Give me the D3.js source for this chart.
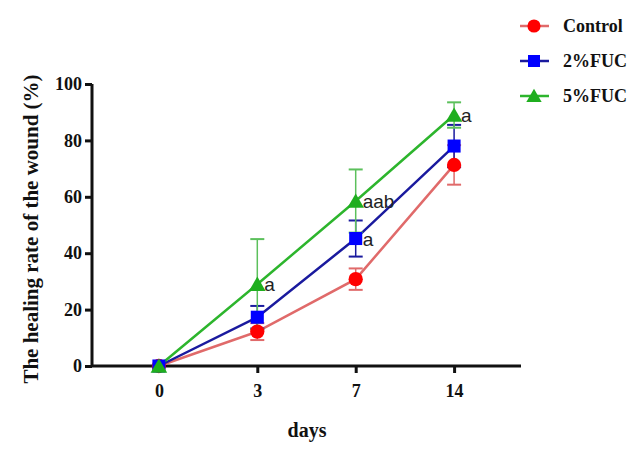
<!DOCTYPE html>
<html>
<head>
<meta charset="utf-8">
<script src="https://cdn.jsdelivr.net/npm/d3@7"></script>
<style>
  body { margin: 0; background: #fff; }
  svg { display: block; }
</style>
</head>
<body>
<script>
// data
const days = ['0', '3', '7', '14'];
const yTicks = [0, 20, 40, 60, 80, 100];
const seriesNames = ['Control', '2%FUC', '5%FUC'];
const controlMean = [0, 12.2, 30.8, 71.3];
const controlErr  = [0, 3, 3.8, 7];
const fuc2Mean = [0, 17.3, 45.2, 78];
const fuc2Err  = [0, 4, 6.4, 7.5];
const fuc5Mean = [0, 29, 58.5, 89];
const fuc5Err  = [0, 16, 11.2, 4.5];
// significance letters: [series index, day index, text]
const letters = [[2, 1, 'a'], [2, 2, 'aab'], [1, 2, 'a'], [2, 3, 'a']];

const W = 643, H = 458;
const svg = d3.select('body').append('svg').attr('width', W).attr('height', H);

const x = d3.scalePoint().domain(days).range([92, 521]).padding(0.68);
const y = d3.scaleLinear().domain([0, 100]).range([366, 84]);

const series = [
  {name: seriesNames[0], mean: controlMean, err: controlErr, line: '#e06a6a', mark: '#ff0000', bar: '#e06a6a', shape: d3.symbolCircle, size: 160},
  {name: seriesNames[1], mean: fuc2Mean, err: fuc2Err, line: '#1a1a9e', mark: '#0000ff', bar: '#1a1a9e', shape: d3.symbolSquare, size: 170},
  {name: seriesNames[2], mean: fuc5Mean, err: fuc5Err, line: '#2db52d', mark: '#1fae1f', bar: '#5cc05c', shape: d3.symbolTriangle, size: 120}
];

// axes
const serif = '"Liberation Serif", "Times New Roman", serif';
const yAxis = svg.append('g').attr('transform', 'translate(92,0)')
  .call(d3.axisLeft(y).tickValues(yTicks).tickSize(7).tickPadding(3));
const xAxis = svg.append('g').attr('transform', 'translate(0,366)')
  .call(d3.axisBottom(x).tickSize(7).tickPadding(11));
[yAxis, xAxis].forEach(g => {
  g.select('.domain').attr('stroke', '#111').attr('stroke-width', 3);
  g.selectAll('.tick line').attr('stroke', '#111').attr('stroke-width', 3);
  g.selectAll('.tick text').attr('fill', '#111')
    .style('font-family', serif).style('font-weight', 'bold').style('font-size', '18px');
});
yAxis.select('.domain').attr('d', 'M0,366V84');
xAxis.select('.domain').attr('d', 'M92,0H521');

svg.append('text').attr('x', 307).attr('y', 437).attr('text-anchor', 'middle')
  .style('font-family', serif).style('font-weight', 'bold').style('font-size', '20px')
  .attr('fill', '#111').text('days');
svg.append('text').attr('transform', 'translate(38,229) rotate(-90)').attr('text-anchor', 'middle')
  .style('font-family', serif).style('font-weight', 'bold').style('font-size', '21px')
  .attr('fill', '#111').text('The healing rate of the wound (%)');

// lines, error bars, markers
const line = d3.line().x((d, i) => x(days[i])).y(d => y(d));
series.forEach(s => {
  svg.append('path').datum(s.mean).attr('d', line)
    .attr('fill', 'none').attr('stroke', s.line).attr('stroke-width', 2.5);
});
series.forEach(s => {
  const g = svg.append('g');
  s.mean.forEach((m, i) => {
    if (!s.err[i]) return;
    const cx = x(days[i]);
    g.append('line').attr('x1', cx).attr('x2', cx).attr('y1', y(m - s.err[i])).attr('y2', y(m + s.err[i]))
      .attr('stroke', s.bar).attr('stroke-width', 1.5);
    [m - s.err[i], m + s.err[i]].forEach(v => {
      g.append('line').attr('x1', cx - 7).attr('x2', cx + 7).attr('y1', y(v)).attr('y2', y(v))
        .attr('stroke', s.bar).attr('stroke-width', 2);
    });
  });
});
series.forEach(s => {
  svg.append('g').selectAll('path').data(s.mean).join('path')
    .attr('transform', (d, i) => `translate(${x(days[i])},${y(d) + (s.shape === d3.symbolTriangle ? 2 : 0)})`)
    .attr('d', d3.symbol().type(s.shape).size(s.size))
    .attr('fill', s.mark);
});

// significance letters
svg.append('g').selectAll('text').data(letters).join('text')
  .attr('x', d => x(days[d[1]]) + 7)
  .attr('y', d => y(series[d[0]].mean[d[1]]) + 7)
  .style('font-family', '"Liberation Sans", Arial, sans-serif').style('font-size', '19px')
  .attr('fill', '#222').text(d => d[2]);

// legend
const leg = svg.append('g');
series.forEach((s, i) => {
  const ly = 26 + i * 35;
  leg.append('line').attr('x1', 520).attr('x2', 549).attr('y1', ly).attr('y2', ly)
    .attr('stroke', s.line).attr('stroke-width', 2.5);
  leg.append('path').attr('transform', `translate(534,${ly + (s.shape === d3.symbolTriangle ? 1.5 : 0)})`)
    .attr('d', d3.symbol().type(s.shape).size(s.size * 0.85)).attr('fill', s.mark);
  leg.append('text').attr('x', 563).attr('y', ly + 6)
    .style('font-family', serif).style('font-weight', 'bold').style('font-size', '18px')
    .attr('fill', '#111').text(s.name);
});
</script>
</body>
</html>
